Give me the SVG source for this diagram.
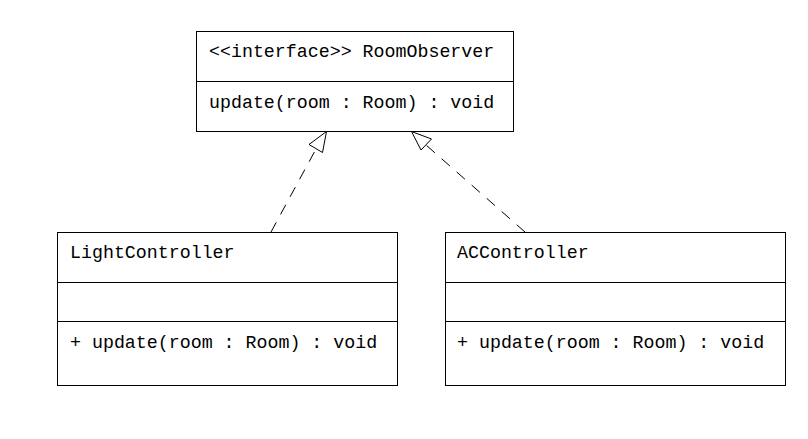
<svg xmlns="http://www.w3.org/2000/svg" width="808" height="439" viewBox="0 0 808 439">
<style>
.box{fill:#fff;stroke:#000;stroke-width:1}
.div{stroke:#000;stroke-width:1}
text{font-family:"Liberation Mono","Courier New",monospace;font-size:18.3px;fill:#000}
.edge{fill:none;stroke:#000;stroke-width:1;stroke-dasharray:11,9}
.head{fill:#fff;stroke:#000;stroke-width:1}
</style>
<rect width="808" height="439" fill="#fff"/>
<g id="connectors">
<line class="edge" x1="271" y1="232" x2="316" y2="149"/>
<polygon class="head" points="326.5,131.5 309,144.5 322.5,152.5"/>
<line class="edge" x1="525" y1="232" x2="426" y2="145"/>
<polygon class="head" points="411.5,131.5 431.5,139 421,150"/>
</g>
<g id="RoomObserver">
<rect class="box" x="196.5" y="31.5" width="317" height="100"/>
<line class="div" x1="196.5" y1="81.5" x2="513.5" y2="81.5"/>
<text x="209" y="57">&lt;&lt;interface&gt;&gt; RoomObserver</text>
<text x="209" y="108">update(room : Room) : void</text>
</g>
<g id="LightController">
<rect class="box" x="57.5" y="232.5" width="340" height="153"/>
<line class="div" x1="57.5" y1="282.5" x2="397.5" y2="282.5"/>
<line class="div" x1="57.5" y1="321.5" x2="397.5" y2="321.5"/>
<text x="70" y="258">LightController</text>
<text x="70" y="348">+ update(room : Room) : void</text>
</g>
<g id="ACController">
<rect class="box" x="445.5" y="232.5" width="340" height="153"/>
<line class="div" x1="445.5" y1="282.5" x2="785.5" y2="282.5"/>
<line class="div" x1="445.5" y1="321.5" x2="785.5" y2="321.5"/>
<text x="457" y="258">ACController</text>
<text x="457" y="348">+ update(room : Room) : void</text>
</g>
</svg>
